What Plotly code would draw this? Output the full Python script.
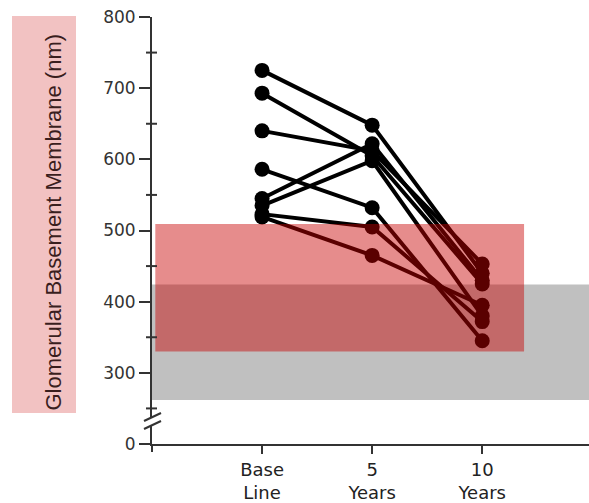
import plotly.graph_objects as go

# Data
timepoints = ["Base<br>Line", "5<br>Years", "10<br>Years"]
x_pos = [0, 1, 2]
subjects = {
    "A": [725, 648, 440],
    "B": [693, 605, 425],
    "C": [640, 612, 453],
    "D": [586, 532, 345],
    "E": [545, 622, 430],
    "F": [535, 598, 380],
    "G": [523, 505, 372],
    "H": [519, 465, 395],
}
# axis display: value 200 is shown as "0" (broken axis)
ytick_vals = [200, 300, 400, 500, 600, 700, 800]
ytick_text = ["0", "300", "400", "500", "600", "700", "800"]
minor_vals = [250, 350, 450, 550, 650, 750]
normal_range_gray = [262, 424]
normal_range_pink = [330, 509]

YMIN, YMAX = 200, 800
L, T, B, W, H = 152, 17, 59, 589, 503
PW = W - L
PH = H - T - B


def px_x(px):
    return (px - L) / PW


def px_y(py):
    return (H - B - py) / PH


def val_y(v):
    return (v - YMIN) / (YMAX - YMIN)


fig = go.Figure()

for name, vals in subjects.items():
    fig.add_trace(go.Scatter(
        x=x_pos, y=vals, mode="lines+markers", name=name,
        line=dict(color="black", width=4),
        marker=dict(color="black", size=15),
        showlegend=False, hoverinfo="skip", cliponaxis=False,
    ))

shapes = []
# gray band (below data)
shapes.append(dict(type="rect", xref="paper", yref="y", x0=0, x1=1,
                   y0=normal_range_gray[0], y1=normal_range_gray[1],
                   fillcolor="rgb(192,192,192)", line=dict(width=0), layer="below"))
# pink band (above data, translucent red)
shapes.append(dict(type="rect", xref="x", yref="y", x0=-0.97, x1=2.38,
                   y0=normal_range_pink[0], y1=normal_range_pink[1],
                   fillcolor="rgba(200,0,0,0.45)", line=dict(width=0), layer="above"))
# y-title box
shapes.append(dict(type="rect", xref="paper", yref="paper", x0=px_x(12), x1=px_x(76),
                   y0=px_y(413), y1=px_y(16), fillcolor="rgb(242,194,194)",
                   line=dict(width=0), layer="below"))
# axis extension below 0
shapes.append(dict(type="line", xref="paper", yref="paper", x0=0, x1=0,
                   y0=0, y1=px_y(452), line=dict(color="#333", width=2)))
# minor ticks crossing the axis
for v in minor_vals:
    shapes.append(dict(type="line", xref="paper", yref="paper",
                       x0=px_x(146), x1=px_x(157), y0=val_y(v), y1=val_y(v),
                       line=dict(color="#333", width=2)))
# axis break: white gap + two slashes
shapes.append(dict(type="rect", xref="paper", yref="paper",
                   x0=px_x(149), x1=px_x(155), y0=px_y(425), y1=px_y(418),
                   fillcolor="white", line=dict(width=0), layer="above"))
for (ya, yb) in [(421, 413), (429, 421)]:
    shapes.append(dict(type="line", xref="paper", yref="paper",
                       x0=px_x(144), x1=px_x(161), y0=px_y(ya), y1=px_y(yb),
                       line=dict(color="#333", width=2)))

fig.update_layout(
    width=W, height=H,
    margin=dict(l=L, r=0, t=T, b=B, autoexpand=False),
    paper_bgcolor="white", plot_bgcolor="white",
    shapes=shapes,
    font=dict(family="DejaVu Sans, Arial, sans-serif", color="#222"),
    xaxis=dict(
        range=[-1, 2.97], tickvals=x_pos, ticktext=timepoints,
        showline=True, linecolor="#333", linewidth=2,
        ticks="outside", ticklen=8, tickwidth=2, tickcolor="#333",
        showgrid=False, zeroline=False, automargin=False,
        tickfont=dict(size=18, color="#222"),
    ),
    yaxis=dict(
        range=[YMIN, YMAX], tickvals=ytick_vals, ticktext=ytick_text,
        showline=True, linecolor="#333", linewidth=2,
        ticks="outside", ticklen=11, tickwidth=2, tickcolor="#333",
        showgrid=False, zeroline=False, automargin=False,
        tickfont=dict(size=17, color="#333"),
    ),
    annotations=[dict(
        text="Glomerular Basement Membrane (nm)", xref="paper", yref="paper",
        x=px_x(38), y=px_y(222), textangle=-90, showarrow=False,
        font=dict(family="Liberation Sans Narrow, Arial Narrow, sans-serif",
                  size=22, color="#3a1e1e"),
    )],
)

fig.write_html("out.html")
